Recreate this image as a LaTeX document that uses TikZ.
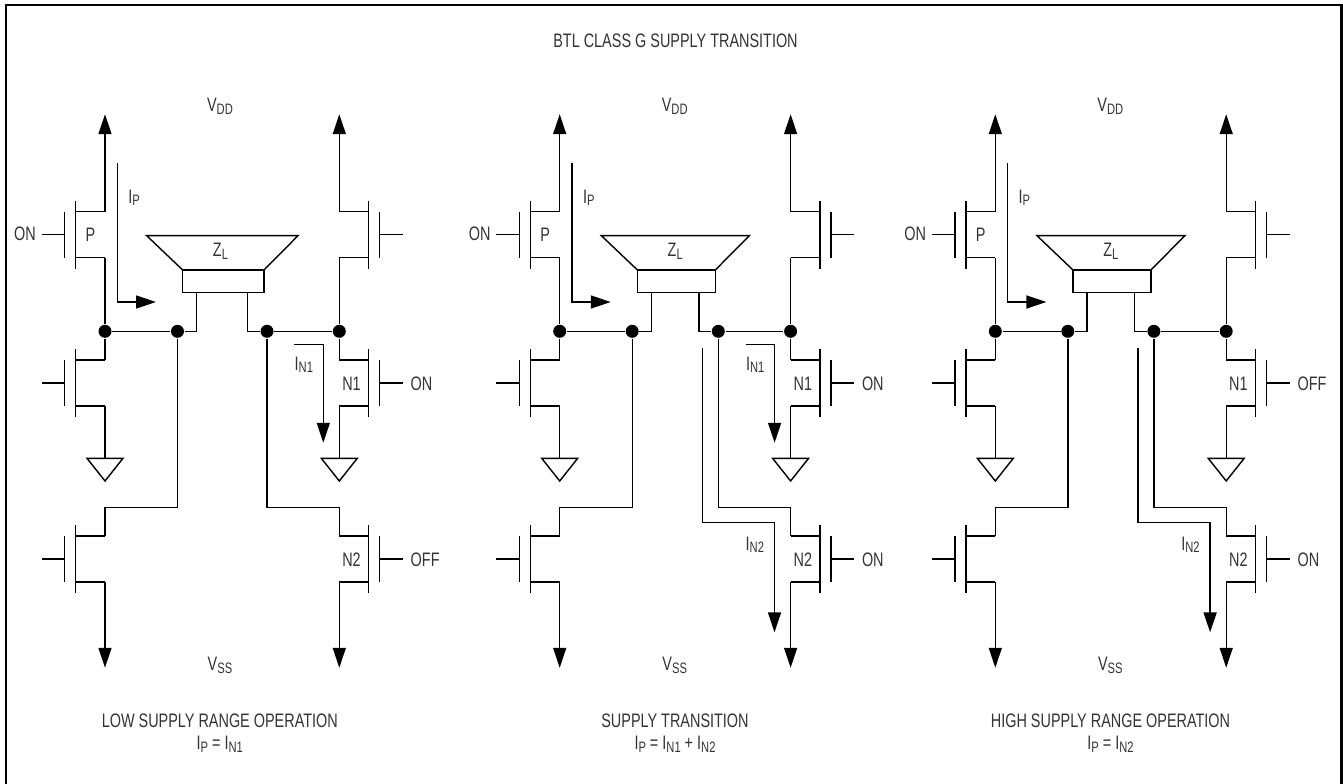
\documentclass[tikz,border=0pt]{standalone}
\usepackage{fontspec}
\setmainfont[FakeStretch=0.74]{Liberation Sans}
\usetikzlibrary{arrows.meta}

\newcommand{\subtxt}[1]{\raisebox{-1.7pt}{\fontsize{8.6}{8.6}\selectfont #1}}

\tikzset{
	flow/.style={-{Triangle[length=11.3pt,width=7.4pt]}},
	dot/.style={circle,fill=black,inner sep=0pt,minimum size=7.4pt},
	lbl/.style={inner sep=0pt,text=black!80,font=\fontsize{11.1}{11.1}\selectfont},
	fet/.pic={
		\draw (-29.3,-34.2)--(-29.3,34.2);
		\draw (-40.3,-23)--(-40.3,23);
		\draw (-40.3,0)--(-63.3,0);
		\draw (0,-23)--(-29.3,-23);
		\draw (0,23)--(-29.3,23);
		\coordinate (-d) at (0,-23);
		\coordinate (-s) at (0,23);
	},
	gnd/.pic={
		\draw[line join=miter] (-18,0)--(18,0)--(0,22.7)--cycle;
		\coordinate (-t) at (0,0);
	}
}

\begin{document}
\begin{tikzpicture}[line width=0.8pt,x=0.02cm,y=-0.02cm]
\useasboundingbox (0,0) rectangle (1343,784);

%% cadre
\coordinate (f1) at (6,784);
\coordinate (f2) at (6,5);
\coordinate (f3) at (1341.5,5);
\coordinate (f4) at (1341.5,784);
\draw[line width=1.2pt] (f1)--(f2)--(f3)--(f4);
\node[lbl,anchor=base] (title) at (675.5,47.7) {BTL CLASS G SUPPLY TRANSITION};

\foreach \p/\l/\r/\stA/\stB in {1/0/0/ON/OFF,2/454.7/451.3/ON/ON,3/890.3/886.9/OFF/ON}{

	%% transistors
	\pic (P\p) at (\l+105,234.7) {fet};
	\pic (Q\p) at (\l+105,383) {fet};
	\pic (R\p) at (\l+105,559) {fet};
	\pic[xscale=-1] (U\p) at (\r+339.3,234.7) {fet};
	\pic[xscale=-1] (A\p) at (\r+339.3,383) {fet};
	\pic[xscale=-1] (B\p) at (\r+339.3,559) {fet};

	\node[dot] (a\p) at (\l+105,331.3) {};
	\node[dot] (b\p) at (\l+177.5,331.3) {};
	\node[dot] (c\p) at (\r+267,331.3) {};
	\node[dot] (d\p) at (\r+339.3,331.3) {};

	%% rails
	\coordinate (vddL\p) at (\l+105,114.3);
	\coordinate (vddR\p) at (\r+339.3,114.3);
	\coordinate (vssL\p) at (\l+105,667.7);
	\coordinate (vssR\p) at (\r+339.3,667.7);
	\draw[flow] (P\p-d)--(vddL\p);
	\draw[flow] (U\p-d)--(vddR\p);
	\draw[flow] (R\p-s)--(vssL\p);
	\draw[flow] (B\p-s)--(vssR\p);

	\draw (P\p-s)--(a\p);
	\draw (U\p-s)--(d\p);
	\draw (a\p)--(Q\p-d);
	\draw (d\p)--(A\p-d);

	%% masses
	\pic (gL\p) at (\l+105,458.3) {gnd};
	\pic (gR\p) at (\r+339.3,458.3) {gnd};
	\draw (Q\p-s)--(gL\p-t);
	\draw (A\p-s)--(gR\p-t);

	%% charge ZL
	\coordinate (t1\p) at (\l+146.7,235.7);
	\coordinate (t2\p) at (\r+298,235.7);
	\coordinate (z1\p) at (\l+182.7,270);
	\coordinate (z2\p) at (\r+264,270);
	\coordinate (z3\p) at (\r+264,292.3);
	\coordinate (z4\p) at (\l+182.7,292.3);
	\coordinate (w1\p) at (\l+196.7,292.3);
	\coordinate (w2\p) at (\r+247.7,292.3);
	\coordinate (w3\p) at (\l+196.7,331.3);
	\coordinate (w4\p) at (\r+247.7,331.3);
	\draw (z1\p)--(t1\p)--(t2\p)--(z2\p);
	\draw (z1\p)--(z4\p)--(z3\p)--(z2\p);
	\draw[line width=1.2pt] (z1\p)--(z2\p);
	\draw (a\p)--(b\p)--(w3\p)--(w1\p);
	\draw (c\p)--(d\p);
	\draw (c\p)--(w4\p)--(w2\p);

	%% liaisons vers N2
	\coordinate (m1\p) at (\l+177.5,507.3);
	\coordinate (m2\p) at (\l+105,507.3);
	\coordinate (m3\p) at (\r+267,507.3);
	\coordinate (m4\p) at (\r+339.3,507.3);
	\draw (b\p)--(m1\p)--(m2\p)--(R\p-d);
	\draw (c\p)--(m3\p)--(m4\p)--(B\p-d);

	%% courant IP
	\coordinate (ip1\p) at (\l+117.3,162.7);
	\coordinate (ip2\p) at (\l+117.3,302);
	\coordinate (ip3\p) at (\l+156,302);
	\draw[flow] (ip1\p)--(ip2\p)--(ip3\p);

	%% textes
	\node[lbl,anchor=base] (vdd\p) at (\l+220,112) {V\subtxt{DD}};
	\node[lbl,anchor=base] (vss\p) at (\l+220,670.5) {V\subtxt{SS}};
	\node[lbl,anchor=base west] (ipl\p) at (\l+127.7,203) {I\subtxt{P}};
	\node[lbl,anchor=base] (nP\p) at (\l+90.5,241.5) {P};
	\node[lbl,anchor=base] (zl\p) at (\l+220.5,256.5) {Z\subtxt{L}};
	\node[lbl,anchor=base east] (on\p) at (\l+36.5,240) {ON};
	\node[lbl,anchor=base] (nA\p) at (\r+351.5,390) {N1};
	\node[lbl,anchor=base] (nB\p) at (\r+351.5,566) {N2};
	\node[lbl,anchor=base west] (sA\p) at (\r+410,390) {\stA};
	\node[lbl,anchor=base west] (sB\p) at (\r+410,566) {\stB};
}

%% courants IN1 et IN2
\foreach \p/\r in {1/0,2/451.3}{
	\coordinate (ia1\p) at (\r+294.3,344.7);
	\coordinate (ia2\p) at (\r+323.3,344.7);
	\coordinate (ia3\p) at (\r+323.3,442.7);
	\draw[flow] (ia1\p)--(ia2\p)--(ia3\p);
	\node[lbl,anchor=base west] (iaL\p) at (\r+294,370) {I\subtxt{N1}};
}
\foreach \p/\r in {2/451.3,3/886.9}{
	\coordinate (ib1\p) at (\r+251,348.3);
	\coordinate (ib2\p) at (\r+251,522.3);
	\coordinate (ib3\p) at (\r+323.2,522.3);
	\coordinate (ib4\p) at (\r+323.2,632.3);
	\draw[flow] (ib1\p)--(ib2\p)--(ib3\p)--(ib4\p);
	\node[lbl,anchor=base west] (ibL\p) at (\r+293.7,550) {I\subtxt{N2}};
}

%% legendes
\node[lbl,anchor=base] (cap1) at (219.8,727) {LOW SUPPLY RANGE OPERATION};
\node[lbl,anchor=base] (eq1) at (219.8,749.5) {I\subtxt{P} = I\subtxt{N1}};
\node[lbl,anchor=base] (cap2) at (675,727) {SUPPLY TRANSITION};
\node[lbl,anchor=base] (eq2) at (675,749.5) {I\subtxt{P} = I\subtxt{N1} + I\subtxt{N2}};
\node[lbl,anchor=base] (cap3) at (1110.5,727) {HIGH SUPPLY RANGE OPERATION};
\node[lbl,anchor=base] (eq3) at (1110.5,749.5) {I\subtxt{P} = I\subtxt{N2}};

\end{tikzpicture}
\end{document}
